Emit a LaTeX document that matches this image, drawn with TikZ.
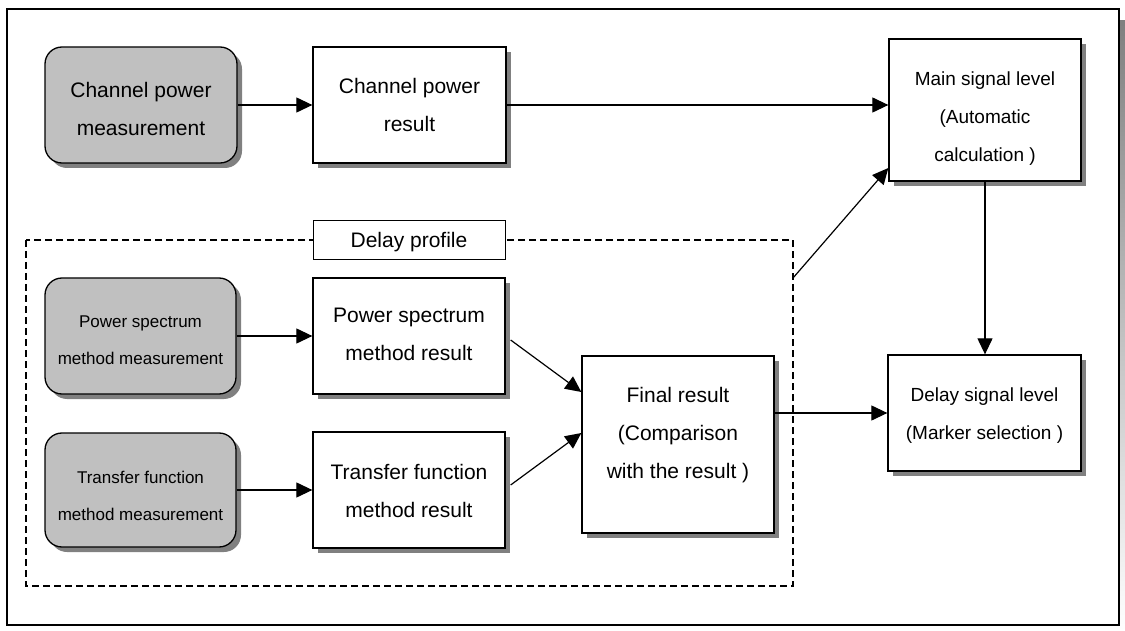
\documentclass[tikz,border=0pt]{standalone}
\usepackage{fontspec}
\setmainfont{Liberation Sans}
\usetikzlibrary{arrows.meta,shadows,calc}
\definecolor{silver}{HTML}{C0C0C0}
\definecolor{shade}{HTML}{808080}
\tikzset{
  box/.style={draw=black, line width=1.3pt, fill=white, align=center, inner sep=0pt,
    text depth=4pt,
    drop shadow={shadow xshift=5pt, shadow yshift=-5pt, fill=shade, opacity=1}},
  gbox/.style={box, fill=silver, rounded corners=17pt},
  big/.style={font=\fontsize{21}{38}\selectfont},
  mid/.style={font=\fontsize{19}{38}\selectfont},
  small/.style={font=\fontsize{17}{37}\selectfont},
  conn/.style={line width=1.2pt, -{Triangle[length=16pt,width=15pt]}},
}
\begin{document}
\begin{tikzpicture}[x=1pt,y=-1pt]
\useasboundingbox (0,0) rectangle (1125,631);
% outer frame with shadow
\fill[shade] (19,21) rectangle (1125,631);
\draw[line width=1.2pt, fill=white] (7,9) rectangle (1119,625);

% dashed delay profile region
\draw[line width=1.5pt, dash pattern=on 7pt off 4pt] (26,240) rectangle (793,586);
\node[draw=black, line width=1pt, fill=white, big, inner sep=0pt,
  minimum width=192pt, minimum height=39pt, text height=19pt, text depth=4pt]
  (dp) at (409,240.5) {Delay profile};
\coordinate (dpc) at (793,278);

% boxes
\node[gbox, big, minimum width=192pt, minimum height=116pt, text height=66pt]
  (cpm) at (141,105) {Channel power\\measurement};
\node[box, big, minimum width=193pt, minimum height=116pt, text height=58pt]
  (cpr) at (409.5,105) {Channel power\\result};
\node[box, mid, minimum width=192pt, minimum height=142pt, text height=108pt]
  (msl) at (985,110) {Main signal level\\(Automatic\\calculation )};
\node[gbox, small, minimum width=191pt, minimum height=116pt, text height=60pt]
  (psm) at (140.5,336) {Power spectrum\\method measurement};
\node[box, big, minimum width=192pt, minimum height=116pt, text height=52pt]
  (psr) at (409,336) {Power spectrum\\method result};
\node[gbox, small, minimum width=191pt, minimum height=114pt, text height=64pt]
  (tfm) at (140.5,490) {Transfer function\\method measurement};
\node[box, big, minimum width=192pt, minimum height=116pt, text height=58pt]
  (tfr) at (409,490) {Transfer function\\method result};
\node[box, big, minimum width=192pt, minimum height=177pt, text height=71pt]
  (fr) at (678,444.5) {Final result\\(Comparison\\with the result )};
\node[box, mid, minimum width=193pt, minimum height=116pt, text height=56pt]
  (dsl) at (984.5,413) {Delay signal level\\(Marker selection )};

% connectors
\draw[conn] (cpm.east) -- (cpr.west);
\draw[conn] (cpr.east) -- (cpr.east -| msl.west);
\draw[conn] (psm.east) -- (psr.west);
\draw[conn] (tfm.east) -- (tfr.west);
\draw[conn] ([xshift=5pt,yshift=-4pt]psr.east) -- ([yshift=52.5pt]fr.west);
\draw[conn] ([xshift=5pt,yshift=5pt]tfr.east) -- ([yshift=11.5pt]fr.west);
\draw[conn] (fr.east |- dsl.west) -- (dsl.west);
\draw[conn] (msl.south) -- (msl.south |- dsl.north);
\draw[conn] (dpc) -- ([yshift=-58pt]msl.west);
\end{tikzpicture}
\end{document}
